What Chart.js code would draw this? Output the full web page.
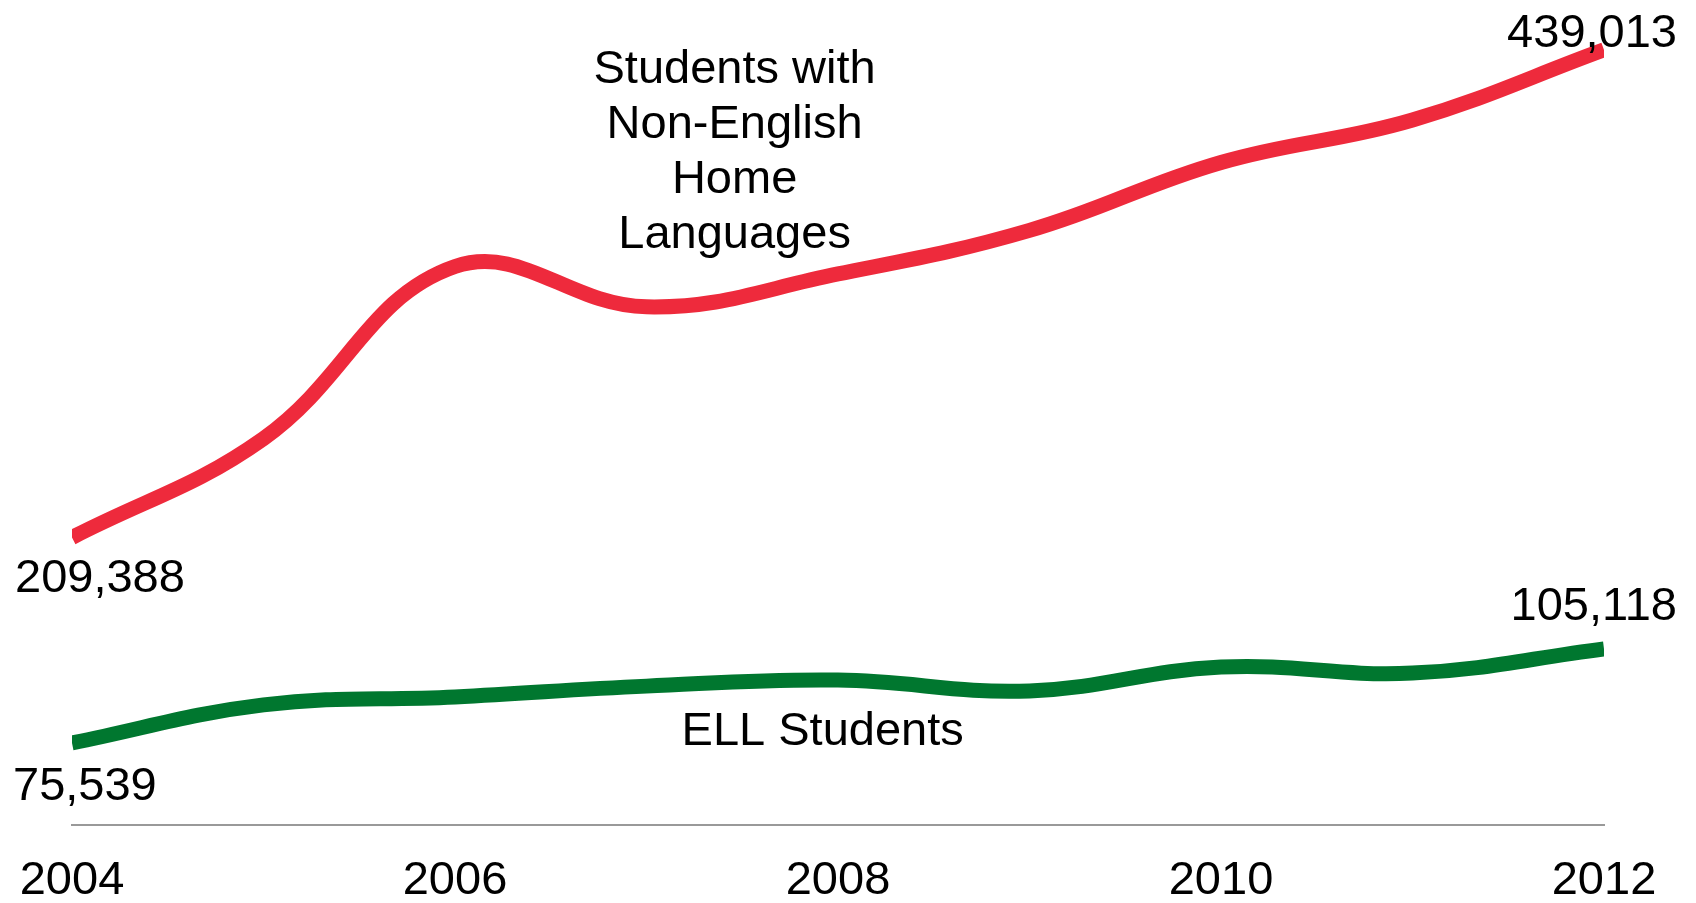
<!DOCTYPE html>
<html>
<head>
<meta charset="utf-8">
<script src="https://cdn.jsdelivr.net/npm/chart.js@4"></script>
<style>
    html, body { margin: 0; padding: 0; background: #ffffff; }
    #wrap { width: 1696px; height: 903px; position: relative; }
</style>
</head>
<body>
<div id="wrap"><canvas id="chart"></canvas></div>
<script>
var years = ['2004', '2005', '2006', '2007', '2008', '2009', '2010', '2011', '2012'];
var yearTicks = ['2004', '2006', '2008', '2010', '2012'];

// Students with non-English home languages
var homeLangStudents = [209388, 256000, 337000, 318000, 333500, 354000, 386000, 406000, 439013];
// English language learners
var ellStudents = [75539, 87500, 90000, 93400, 95300, 91900, 99400, 97500, 105118];

var seriesNames = [['Students with', 'Non-English', 'Home', 'Languages'], ['ELL Students']];

var RED = '#ee2a3c';
var GREEN = '#00772f';
var FONT = '"Liberation Sans", Arial, sans-serif';

function fmt(n) {
    return n.toLocaleString('en-US');
}

// Value labels at both ends of each line, plus the series names
var labelPlugin = {
    id: 'endLabels',
    afterDatasetsDraw: function (chart) {
        var ctx = chart.ctx;
        var area = chart.chartArea;
        var xs = chart.scales.x;
        var red = chart.getDatasetMeta(0).data;
        var green = chart.getDatasetMeta(1).data;
        var last = years.length - 1;

        ctx.save();
        ctx.fillStyle = '#000000';
        ctx.font = '47px ' + FONT;
        ctx.textBaseline = 'alphabetic';

        ctx.textAlign = 'left';
        ctx.fillText(fmt(homeLangStudents[0]), red[0].x - 57, red[0].y + 55);
        ctx.fillText(fmt(ellStudents[0]), green[0].x - 59, green[0].y + 57);

        ctx.textAlign = 'right';
        ctx.fillText(fmt(homeLangStudents[last]), red[last].x + 73, red[last].y - 3);
        ctx.fillText(fmt(ellStudents[last]), green[last].x + 73, green[last].y - 29);

        ctx.textAlign = 'center';
        var cx = xs.getPixelForValue(3.46);
        seriesNames[0].forEach(function (line, i) {
            ctx.fillText(line, cx, area.top + 83 + i * 55);
        });
        ctx.fillText(seriesNames[1][0], xs.getPixelForValue(3.92), area.top + 745);
        ctx.restore();
    }
};

var ctx = document.getElementById('chart').getContext('2d');
new Chart(ctx, {
    type: 'line',
    data: {
        labels: years,
        datasets: [
            {
                label: 'Students with Non-English Home Languages',
                data: homeLangStudents,
                yAxisID: 'yHome',
                borderColor: RED,
                borderWidth: 15,
                borderCapStyle: 'butt',
                tension: 0.4,
                pointRadius: 0,
                clip: { left: 0, right: 0, top: false, bottom: false }
            },
            {
                label: 'ELL Students',
                data: ellStudents,
                yAxisID: 'yEll',
                borderColor: GREEN,
                borderWidth: 15,
                borderCapStyle: 'butt',
                tension: 0.4,
                pointRadius: 0,
                clip: { left: 0, right: 0, top: false, bottom: false }
            }
        ]
    },
    options: {
        responsive: true,
        maintainAspectRatio: false,
        animation: false,
        devicePixelRatio: 1,
        layout: { autoPadding: false, padding: { left: 72, right: 92, top: 0, bottom: 0 } },
        plugins: {
            legend: { display: false },
            tooltip: { enabled: false }
        },
        scales: {
            x: {
                // tick marks are hidden, tickLength only spaces the labels down
                grid: { display: false, drawTicks: true, tickLength: 34 },
                border: { display: true, color: '#999999', width: 2 },
                ticks: {
                    color: '#000000',
                    font: { family: FONT, size: 47, lineHeight: 0.5 },
                    padding: 10.25,
                    maxRotation: 0,
                    autoSkip: false,
                    callback: function (v, i) {
                        return yearTicks.indexOf(years[i]) >= 0 ? years[i] : null;
                    }
                }
            },
            yHome: { display: false, min: 74000, max: 462500 },
            yEll: { display: false, min: 49700, max: 309300 }
        }
    },
    plugins: [labelPlugin]
});
</script>
</body>
</html>
